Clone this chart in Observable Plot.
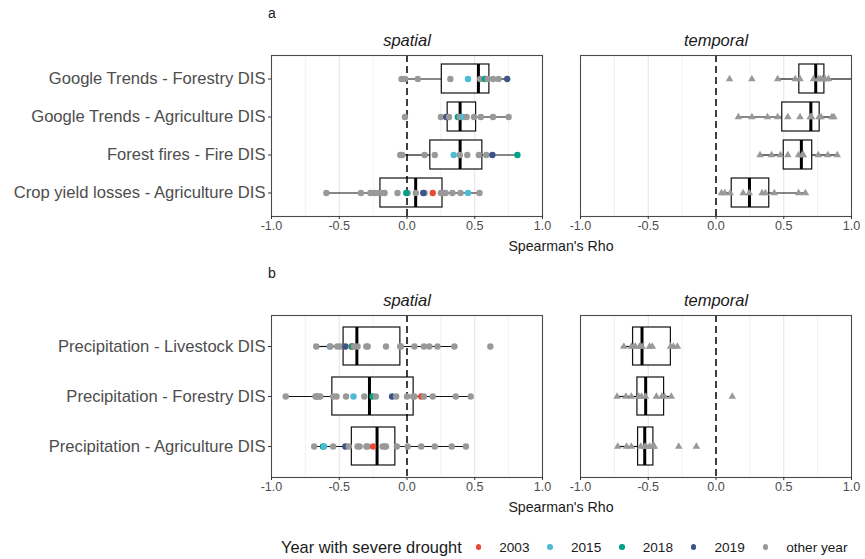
<!DOCTYPE html>
<html><head><meta charset="utf-8">
<script src="https://cdn.jsdelivr.net/npm/d3@7"></script>
<script src="https://cdn.jsdelivr.net/npm/@observablehq/plot@0.6"></script>
<style>
body{margin:0;background:#fff;font-family:"Liberation Sans",Arial,sans-serif;}
#wrap{position:relative;width:865px;height:559px;overflow:hidden;background:#fff}
.abs{position:absolute}
.tag{font-size:14px;line-height:16px;color:#1a1a1a}
.xt{font-size:14.2px;line-height:16px;color:#1a1a1a;width:200px;text-align:center}
#legend{display:flex;align-items:center;white-space:nowrap;color:#1a1a1a}
#legend .ttl{font-size:16.4px}
#legend .dot{width:5.5px;height:5.5px;border-radius:50%;display:inline-block;flex:none}
#legend .lab{font-size:13.6px}
</style></head><body>
<div id="wrap">
  <div class="abs" id="pa" style="left:0;top:0"></div>
  <div class="abs" id="pb" style="left:0;top:260px"></div>
  <div class="abs tag" style="left:268px;top:5px">a</div>
  <div class="abs tag" style="left:268px;top:265px">b</div>
  <div class="abs xt" style="left:461px;top:238px">Spearman's Rho</div>
  <div class="abs xt" style="left:461px;top:499px">Spearman's Rho</div>
  <div class="abs" id="legend" style="left:281px;top:538px;height:18px"></div>
</div>
<script>
// ---------- data ----------
const FACETS = ["spatial", "temporal"];
const YEARS = ["2003", "2015", "2018", "2019", "other year"];
const YEAR_COLORS = ["#E64B35", "#4DBBD5", "#00A087", "#3C5488", "#999999"];
const X_TICKS = [-1, -0.5, 0, 0.5, 1];
const GRID_MAJOR = [-0.5, 0.5];
const GRID_MINOR = [-0.75, -0.25, 0.25, 0.75];
const O = "other year";

// Panel a
const A_CATS = ["Google Trends - Forestry DIS", "Google Trends - Agriculture DIS", "Forest fires - Fire DIS", "Crop yield losses - Agriculture DIS"];
const A_SPATIAL_VALUES = [
  [-0.04, -0.015, 0.08, 0.32, 0.45, 0.54, 0.575, 0.595, 0.635, 0.675, 0.74],
  [-0.015, 0.25, 0.29, 0.31, 0.375, 0.39, 0.415, 0.44, 0.495, 0.545, 0.635, 0.75],
  [-0.05, -0.035, 0.13, 0.205, 0.345, 0.39, 0.445, 0.53, 0.585, 0.63, 0.815],
  [-0.595, -0.34, -0.27, -0.24, -0.21, -0.185, -0.165, -0.07, 0.005, -0.005, 0.065, 0.13, 0.12, 0.19, 0.25, 0.27, 0.285, 0.335, 0.395, 0.45, 0.535]
];
const A_SPATIAL_YEARS = [
  [O, O, O, O, "2015", O, "2018", O, O, O, "2019"],
  [O, O, "2019", O, "2018", O, "2015", O, O, O, O, O],
  [O, O, O, O, "2015", O, O, O, O, "2019", "2018"],
  [O, O, O, O, O, O, O, O, O, "2018", O, O, "2019", "2003", O, O, O, O, O, "2015", O]
];
// [lower whisker, Q1, median, Q3, upper whisker]
const A_SPATIAL_BOX = [
  [-0.04, 0.257, 0.527, 0.608, 0.74],
  [0.25, 0.30, 0.392, 0.51, 0.75],
  [-0.05, 0.172, 0.392, 0.556, 0.815],
  [-0.595, -0.196, 0.064, 0.262, 0.535]
];
const A_TEMPORAL_VALUES = [
  [0.10, 0.265, 0.455, 0.585, 0.62, 0.72, 0.755, 0.77, 0.785, 0.805, 0.83],
  [0.165, 0.265, 0.38, 0.455, 0.53, 0.62, 0.695, 0.705, 0.76, 0.775, 0.855, 0.87],
  [0.325, 0.41, 0.475, 0.53, 0.61, 0.635, 0.645, 0.755, 0.825, 0.895],
  [0.04, 0.065, 0.105, 0.20, 0.245, 0.34, 0.365, 0.43, 0.61, 0.66]
];
const A_TEMPORAL_BOX = [
  [0.455, 0.615, 0.736, 0.80, 1.0],
  [0.165, 0.489, 0.70, 0.765, 0.87],
  [0.325, 0.50, 0.63, 0.71, 0.90],
  [0.037, 0.116, 0.247, 0.393, 0.664]
];

// Panel b
const B_CATS = ["Precipitation - Livestock DIS", "Precipitation - Forestry DIS", "Precipitation - Agriculture DIS"];
const B_SPATIAL_VALUES = [
  [-0.67, -0.57, -0.565, -0.515, -0.49, -0.455, -0.41, -0.405, -0.39, -0.365, -0.30, -0.29, -0.155, -0.05, -0.045, 0.055, 0.125, 0.165, 0.225, 0.35, 0.615],
  [-0.895, -0.675, -0.665, -0.655, -0.64, -0.545, -0.52, -0.45, -0.395, -0.315, -0.255, -0.23, -0.11, -0.08, 0.0, 0.045, 0.055, 0.105, 0.125, 0.19, 0.36, 0.47],
  [-0.685, -0.62, -0.612, -0.545, -0.455, -0.43, -0.365, -0.35, -0.30, -0.29, -0.25, -0.18, -0.165, -0.155, -0.075, 0.005, 0.105, 0.205, 0.33, 0.435]
];
const B_SPATIAL_YEARS = [
  [O, "2015", O, O, O, "2019", "2003", "2018", O, O, O, O, O, O, O, O, O, O, O, O, O],
  [O, O, O, O, O, O, O, O, "2015", O, "2018", O, "2019", O, O, O, O, "2003", O, O, O, O],
  [O, "2018", "2015", O, "2019", O, O, O, O, O, "2003", O, O, O, O, O, O, O, O, O]
];
const B_SPATIAL_BOX = [
  [-0.67, -0.468, -0.37, -0.049, 0.35],
  [-0.895, -0.551, -0.277, 0.049, 0.47],
  [-0.685, -0.407, -0.221, -0.086, 0.435]
];
const B_TEMPORAL_VALUES = [
  [-0.68, -0.625, -0.61, -0.595, -0.565, -0.545, -0.49, -0.47, -0.335, -0.315, -0.285],
  [-0.73, -0.665, -0.625, -0.57, -0.55, -0.52, -0.44, -0.40, -0.38, -0.33, 0.12],
  [-0.725, -0.66, -0.625, -0.555, -0.525, -0.515, -0.49, -0.47, -0.455, -0.275, -0.145]
];
const B_TEMPORAL_BOX = [
  [-0.694, -0.612, -0.546, -0.333, -0.272],
  [-0.728, -0.58, -0.519, -0.383, -0.328],
  [-0.723, -0.575, -0.526, -0.462, -0.452]
];

// ---------- drawing ----------
function buildPanel(cats, sVals, sYears, sBox, tVals, tBox, height) {
  const circles = [], triangles = [], boxes = [];
  cats.forEach((c, i) => {
    sVals[i].forEach((v, j) => circles.push({facet: "spatial", cat: c, v, year: sYears[i][j]}));
    tVals[i].forEach(v => triangles.push({facet: "temporal", cat: c, v, year: O}));
    for (const [facet, b] of [["spatial", sBox[i]], ["temporal", tBox[i]]]) {
      const [lo, q1, med, q3, hi] = b;
      boxes.push({facet, cat: c, lo, q1, med, q3, hi});
    }
  });
  return Plot.plot({
    width: 865,
    height,
    marginLeft: 271,
    marginRight: 14,
    marginTop: 55,
    marginBottom: 30,
    style: {fontFamily: "'Liberation Sans', Arial, sans-serif", background: "white"},
    fx: {domain: FACETS, paddingInner: 38 / 309, paddingOuter: 0, label: null},
    x: {domain: [-1, 1], label: null},
    y: {type: "band", domain: cats, paddingInner: 0.25, paddingOuter: 0.225, label: null},
    color: {domain: YEARS, range: YEAR_COLORS},
    marks: [
      Plot.ruleX(GRID_MINOR, {stroke: "#ebebeb", strokeWidth: 0.7}),
      Plot.ruleX(GRID_MAJOR, {stroke: "#e6e6e6", strokeWidth: 1.1}),
      Plot.ruleY(boxes, {fx: "facet", y: "cat", x1: "lo", x2: "q1", stroke: "#111", strokeWidth: 1.2}),
      Plot.ruleY(boxes, {fx: "facet", y: "cat", x1: "q3", x2: "hi", stroke: "#111", strokeWidth: 1.2}),
      Plot.barX(boxes, {fx: "facet", y: "cat", x1: "q1", x2: "q3", fill: "white", stroke: "#111", strokeWidth: 1.2}),
      Plot.tickX(boxes, {fx: "facet", y: "cat", x: "med", stroke: "#000", strokeWidth: 3}),
      Plot.ruleX([0], {stroke: "#000", strokeWidth: 1.5, strokeDasharray: "7,4"}),
      Plot.dot(circles, {fx: "facet", y: "cat", x: "v", fill: "year", r: 3.2, symbol: "circle"}),
      Plot.dot(triangles, {fx: "facet", y: "cat", x: "v", fill: "year", r: 2.8, symbol: "triangle", clip: true}),
      Plot.frame({stroke: "#4a4a4a", strokeWidth: 1.1}),
      Plot.axisFx({anchor: "top", label: null, tickSize: 0, tickPadding: 10, fontSize: 16.5, fontStyle: "italic", fill: "#1a1a1a"}),
      Plot.axisY({anchor: "left", facetAnchor: "left", label: null, tickSize: 3, tickPadding: 3, fontSize: 16.6, fill: "#4d4d4d", stroke: "#333"}),
      Plot.axisX({anchor: "bottom", label: null, ticks: X_TICKS, tickFormat: d => d.toFixed(1), tickSize: 3, tickPadding: 2, fontSize: 12.6, fill: "#4d4d4d", stroke: "#333"})
    ]
  });
}

document.getElementById("pa").append(
  buildPanel(A_CATS, A_SPATIAL_VALUES, A_SPATIAL_YEARS, A_SPATIAL_BOX, A_TEMPORAL_VALUES, A_TEMPORAL_BOX, 246)
);
document.getElementById("pb").append(
  buildPanel(B_CATS, B_SPATIAL_VALUES, B_SPATIAL_YEARS, B_SPATIAL_BOX, B_TEMPORAL_VALUES, B_TEMPORAL_BOX, 247)
);

// legend
const leg = document.getElementById("legend");
const t = document.createElement("span");
t.className = "ttl"; t.textContent = "Year with severe drought";
leg.append(t);
YEARS.forEach((y, i) => {
  const d = document.createElement("span");
  d.className = "dot"; d.style.background = YEAR_COLORS[i];
  d.style.marginLeft = i === 0 ? "14px" : "18px";
  const l = document.createElement("span");
  l.className = "lab"; l.textContent = y; l.style.marginLeft = "18px";
  leg.append(d, l);
});
</script>
</body></html>
